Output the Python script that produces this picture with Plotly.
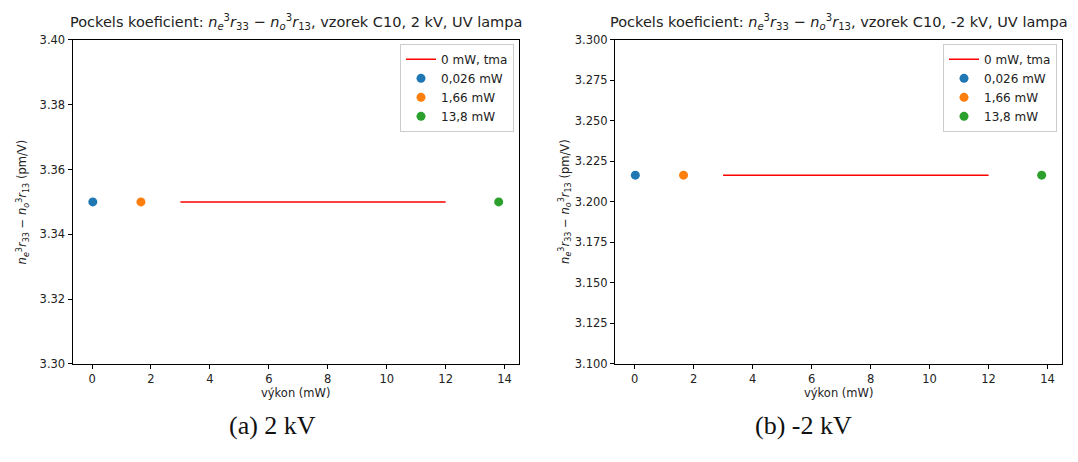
import plotly.graph_objects as go

# Data
power_points = [0.026, 1.66, 13.8]
point_labels = ["0,026 mW", "1,66 mW", "13,8 mW"]
dark_line_x = [3, 12]
dark_label = "0 mW, tma"

vals_2kV_points = [3.35, 3.35, 3.35]
vals_2kV_dark = [3.35, 3.35]
vals_m2kV_points = [3.2165, 3.2165, 3.2165]
vals_m2kV_dark = [3.2165, 3.2165]

xticks = [0, 2, 4, 6, 8, 10, 12, 14]
yticks_a = [3.30, 3.32, 3.34, 3.36, 3.38, 3.40]
yticks_b = [3.100, 3.125, 3.150, 3.175, 3.200, 3.225, 3.250, 3.275, 3.300]

point_colors = ["#1f77b4", "#ff7f0e", "#2ca02c"]
W, H = 1078, 462

fig = go.Figure()

def px_x(p):
    return p / W

def px_y(p):
    return 1 - p / H

panels = [
    dict(xa="x", ya="y", leg="legend", pts=vals_2kV_points, dark=vals_2kV_dark,
         left=72.5, right=519, ticks=yticks_a, fmt=".2f", rng=[3.30, 3.40],
         title="Pockels koeficient: <i>n</i><sub><i>e</i></sub><sup>3</sup><i>r</i><sub>33</sub> − <i>n</i><sub><i>o</i></sub><sup>3</sup><i>r</i><sub>13</sub>, vzorek C10, 2 kV, UV lampa",
         caption="(a) 2 kV", capx=272),
    dict(xa="x2", ya="y2", leg="legend2", pts=vals_m2kV_points, dark=vals_m2kV_dark,
         left=615, right=1062, ticks=yticks_b, fmt=".3f", rng=[3.10, 3.30],
         title="Pockels koeficient: <i>n</i><sub><i>e</i></sub><sup>3</sup><i>r</i><sub>33</sub> − <i>n</i><sub><i>o</i></sub><sup>3</sup><i>r</i><sub>13</sub>, vzorek C10, -2 kV, UV lampa",
         caption="(b) -2 kV", capx=803),
]

top, bottom = 34, 368
ylab = "<i>n</i><sub><i>e</i></sub><sup>3</sup><i>r</i><sub>33</sub> − <i>n</i><sub><i>o</i></sub><sup>3</sup><i>r</i><sub>13</sub> (pm/V)"

for i, p in enumerate(panels):
    fig.add_trace(go.Scatter(x=dark_line_x, y=p["dark"], mode="lines", name=dark_label,
                             line=dict(color="#ff0000", width=1.5),
                             xaxis=p["xa"], yaxis=p["ya"], legend=p["leg"]))
    for j in range(3):
        fig.add_trace(go.Scatter(x=[power_points[j]], y=[p["pts"][j]], mode="markers",
                                 name=point_labels[j],
                                 marker=dict(color=point_colors[j], size=9),
                                 xaxis=p["xa"], yaxis=p["ya"], legend=p["leg"]))
    sfx = "" if i == 0 else "2"
    axstyle = dict(showline=True, mirror=True, linecolor="black", linewidth=1,
                   ticks="outside", ticklen=4, tickcolor="black", showgrid=False,
                   zeroline=False, tickfont=dict(family="DejaVu Sans", size=11.5, color="#222"))
    fig.update_layout(**{
        "xaxis" + sfx: dict(domain=[px_x(p["left"]), px_x(p["right"])],
                            range=[-0.663, 14.489], tickvals=xticks,
                            anchor="y" + sfx, **axstyle),
        "yaxis" + sfx: dict(domain=[px_y(bottom), px_y(top)], range=p["rng"],
                            tickvals=p["ticks"], tickformat=p["fmt"],
                            anchor="x" + sfx, **axstyle),
        p["leg"]: dict(x=px_x(p["right"] - 5), y=px_y(top + 4), xanchor="right", yanchor="top",
                       bordercolor="#cccccc", borderwidth=1, bgcolor="rgba(255,255,255,0.8)",
                       font=dict(family="DejaVu Sans", size=12, color="#222"),
                       tracegroupgap=0, itemwidth=30),
    })
    cx = (p["left"] + p["right"]) / 2
    fig.add_annotation(text=p["title"], x=px_x(cx), y=px_y(15), xref="paper", yref="paper",
                       showarrow=False, xanchor="center", yanchor="middle",
                       font=dict(family="DejaVu Sans", size=14.5, color="#222"))
    fig.add_annotation(text="výkon (mW)", x=px_x(cx), y=px_y(398), xref="paper", yref="paper",
                       showarrow=False, xanchor="center", yanchor="middle",
                       font=dict(family="DejaVu Sans", size=11.5, color="#222"))
    fig.add_annotation(text=ylab, x=px_x(p["left"] - 50), y=px_y((top + bottom) / 2),
                       xref="paper", yref="paper", textangle=-90,
                       showarrow=False, xanchor="center", yanchor="middle",
                       font=dict(family="DejaVu Sans", size=11.5, color="#222"))
    fig.add_annotation(text=p["caption"], x=px_x(p["capx"]), y=px_y(432), xref="paper", yref="paper",
                       showarrow=False, xanchor="center", yanchor="middle",
                       font=dict(family="Liberation Serif", size=26, color="#111"))

fig.update_layout(width=W, height=H, margin=dict(l=0, r=0, t=0, b=0),
                  paper_bgcolor="white", plot_bgcolor="white", showlegend=True)

fig.write_html("out.html")
